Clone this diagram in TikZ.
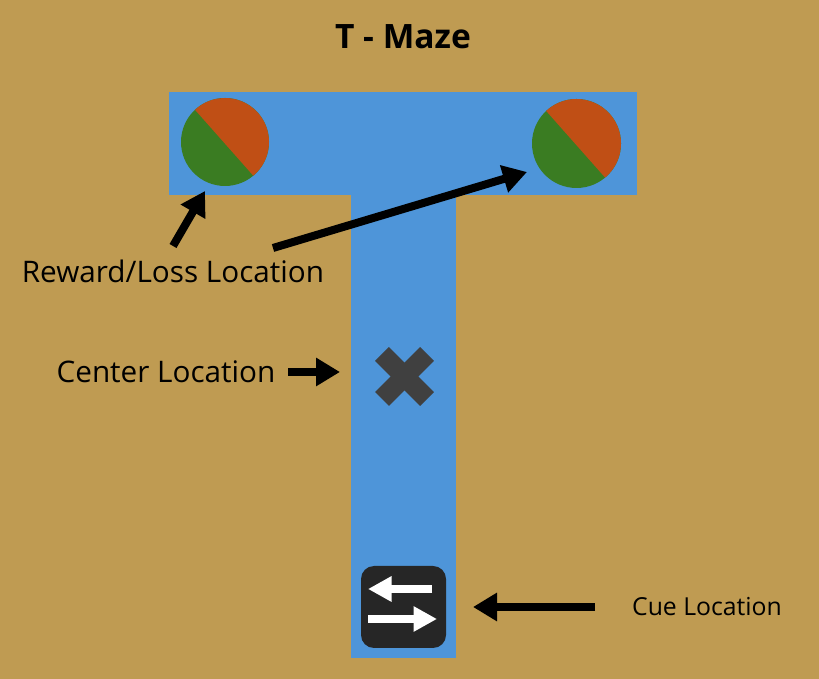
\documentclass[tikz,border=0pt]{standalone}
\usepackage{fontspec}
\setmainfont{Open Sans}
\usetikzlibrary{arrows.meta,calc}
\definecolor{mazeground}{HTML}{BF9B52}
\definecolor{mazeblue}{HTML}{4E95D9}
\definecolor{lossorange}{HTML}{C04F15}
\definecolor{rewardgreen}{HTML}{3A7C22}
\definecolor{cuedark}{HTML}{262626}
\definecolor{crossgray}{HTML}{404040}
\def\rewardwell(#1)(#2){
	\fill[rewardgreen] (#1) circle (#2);
	\fill[lossorange] ($(#1)+(-50:#2)$) arc (-50:133:#2) -- cycle;
}
\tikzset{
	pointer/.style={line width=0.16cm, color=black, -{Triangle[length=0.48cm, width=0.54cm]}},
	cuepointer/.style={line width=0.16cm, color=white, -{Triangle[length=0.47cm, width=0.48cm]}},
	crossbar/.style={line width=0.39cm, color=crossgray},
	label/.style={font=\fontsize{16.9}{20}\selectfont, inner sep=0pt}
}
\begin{document}
\begin{tikzpicture}
		%%%%% START %%%%%
		\fill[mazeground] (0, 0) rectangle (16.38, 13.58);
		\useasboundingbox (0, 0) rectangle (16.38, 13.58);
		
		\node[font=\fontsize{19.1}{22}\selectfont\bfseries, inner sep=0pt] (title) at (8.06, 12.84) {T - Maze};
		
		\fill[mazeblue] (3.38, 11.74) rectangle (12.74, 9.68);
		\fill[mazeblue] (7.02, 9.70) rectangle (9.12, 0.42);
		
		\rewardwell(4.5, 10.74)(0.88)
		\rewardwell(11.53, 10.71)(0.89)
		
		\draw[crossbar] (7.64, 6.50) -- (8.54, 5.60);
		\draw[crossbar] (8.54, 6.50) -- (7.64, 5.60);
		
		\node[fill=cuedark, rounded corners=0.26cm, minimum width=1.7cm, minimum height=1.64cm, inner sep=0pt] (cuebox) at (8.07, 1.44) {};
		\coordinate (lefttail) at (8.64, 1.80);
		\coordinate (lefthead) at (7.36, 1.80);
		\coordinate (righttail) at (7.36, 1.20);
		\coordinate (righthead) at (8.74, 1.20);
		\draw[cuepointer] (lefttail) -- (lefthead);
		\draw[cuepointer] (righttail) -- (righthead);
		
		\node[label] (rewardlabel) at (3.46, 8.16) {Reward/Loss Location};
		\node[label] (centerlabel) at (3.32, 6.14) {Center Location};
		\node[label, font=\fontsize{14.1}{17}\selectfont] (cuelabel) at (14.14, 1.44) {Cue Location};
		
		\coordinate (lefttip) at (4.10, 9.76);
		\coordinate (leftstart) at (3.46, 8.66);
		\coordinate (righttip) at (10.54, 10.14);
		\coordinate (rightstart) at (5.46, 8.62);
		\coordinate (centertip) at (6.80, 6.14);
		\coordinate (centerstart) at (5.76, 6.14);
		\coordinate (cuetip) at (9.46, 1.44);
		\coordinate (cuestart) at (11.9, 1.44);
		
		\draw[pointer] (leftstart) -- (lefttip);
		\draw[pointer] (rightstart) -- (righttip);
		\draw[pointer] (centerstart) -- (centertip);
		\draw[pointer] (cuestart) -- (cuetip);
		%%%%% END %%%%%
	\end{tikzpicture}
\end{document}
